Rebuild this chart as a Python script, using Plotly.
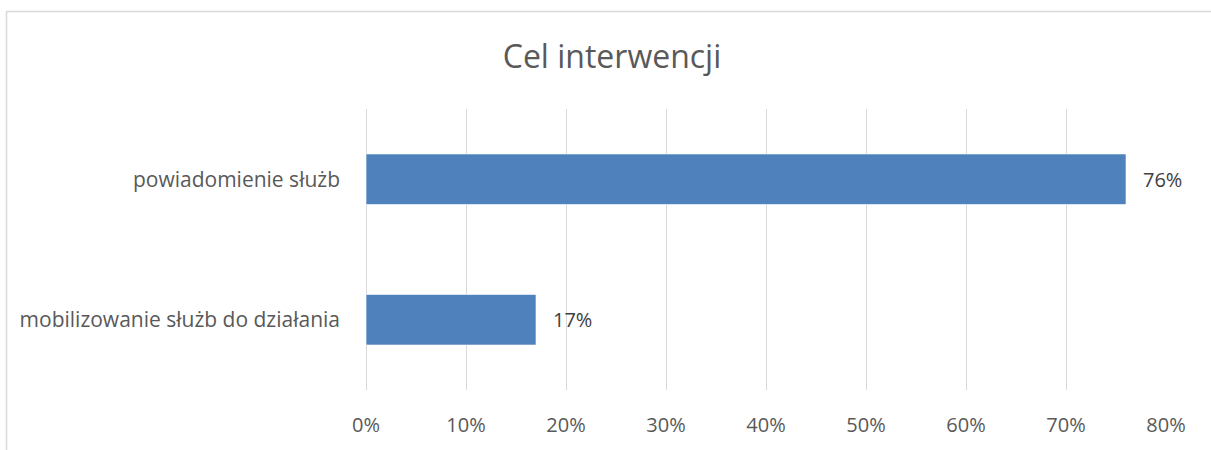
import plotly.graph_objects as go

categories = ["mobilizowanie służb do działania", "powiadomienie służb"]
values = [0.17, 0.76]
labels = ["17%", "76%"]
title_text = "Cel interwencji"

W, H = 1211, 450
L, R, T, B = 366, 45, 109, 54
pw, ph = W - L - R, H - T - B
FONT = "Open Sans"

fig = go.Figure()
fig.add_trace(go.Bar(
    x=values, y=categories, orientation="h",
    marker=dict(color="#4f81bd", line=dict(color="rgba(255,255,255,0.6)", width=1)),
    width=0.36, hoverinfo="skip",
))
for v, c, t in zip(values, categories, labels):
    fig.add_annotation(x=v, y=c, text=t, showarrow=False, xanchor="left",
                       xshift=15, font=dict(size=20, color="#404040", family=FONT))

def px2x(px):
    return (px - L) / pw

def py2y(py):
    return (H - B - py) / ph

fig.add_shape(type="line", xref="paper", yref="paper",
              x0=px2x(6), x1=px2x(1220), y0=py2y(9.5), y1=py2y(9.5),
              line=dict(color="#d9d9d9", width=1.5))
fig.add_shape(type="line", xref="paper", yref="paper",
              x0=px2x(6.5), x1=px2x(6.5), y0=py2y(9.5), y1=py2y(470),
              line=dict(color="#d9d9d9", width=1.5))

fig.update_layout(
    width=W, height=H,
    margin=dict(l=L, r=R, t=T, b=B),
    paper_bgcolor="white", plot_bgcolor="white",
    title=dict(text=title_text, x=612 / W, xref="container", xanchor="center",
               y=1 - 57 / H, yanchor="middle",
               font=dict(family=FONT, size=32, color="#595959")),
    showlegend=False,
    font=dict(family=FONT, size=20, color="#595959"),
    xaxis=dict(range=[0, 0.8], dtick=0.1, tick0=0, tickformat=".0%",
               showgrid=True, gridcolor="#d9d9d9", gridwidth=1,
               zeroline=True, zerolinecolor="#d9d9d9", zerolinewidth=1,
               showline=False, ticks="", ticklabelstandoff=21,
               tickfont=dict(size=20), fixedrange=True),
    yaxis=dict(showgrid=False, zeroline=False, showline=False, ticks="",
               ticklabelstandoff=25, categoryorder="array",
               tickfont=dict(size=21),
               categoryarray=categories, fixedrange=True),
)

fig.write_html("out.html", config={"displayModeBar": False},
               post_script="document.body.style.margin='0';")
